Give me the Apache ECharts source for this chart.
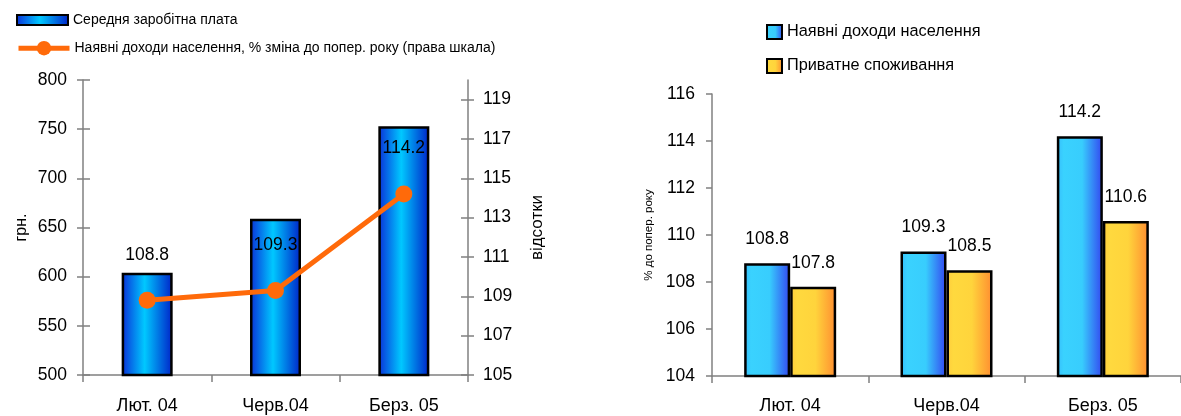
<!DOCTYPE html>
<html>
<head>
<meta charset="utf-8">
<script src="https://cdn.jsdelivr.net/npm/echarts@6/dist/echarts.min.js"></script>
<style>
html,body{margin:0;padding:0;background:#fff;}
#c{width:1181px;height:416px;}
</style>
</head>
<body>
<div id="c"></div>
<script>
// ---- data ----
const categories = ['Лют. 04', 'Черв.04', 'Берз. 05'];
const wages = [604, 659, 753];                 // Середня заробітна плата, грн.
const incomeGrowth = [108.8, 109.3, 114.2];    // Наявні доходи, % до попер. року (права шкала)
const disposableIncome = [108.8, 109.3, 114.2];
const privateConsumption = [107.8, 108.5, 110.6];
const rightScaleTicks = [105, 107, 109, 111, 113, 115, 117, 119];

const nameWage = 'Середня заробітна плата';
const nameIncomeLine = 'Наявні доходи населення, % зміна до попер. року (права шкала)';
const nameIncome = 'Наявні доходи населення';
const nameConsumption = 'Приватне споживання';

const FONT = '"Liberation Sans", Arial, sans-serif';
const AXIS_COLOR = '#808080';

const blueBar = {
  type: 'linear', x: 0, y: 0, x2: 1, y2: 0,
  colorStops: [
    {offset: 0, color: '#0a2fd8'},
    {offset: 0.45, color: '#00c8ff'},
    {offset: 1, color: '#0022c8'}
  ]
};
const cyanBar = {
  type: 'linear', x: 0, y: 0, x2: 1, y2: 0,
  colorStops: [
    {offset: 0, color: '#36bdfc'},
    {offset: 0.15, color: '#3ad2fe'},
    {offset: 0.55, color: '#38cdfd'},
    {offset: 1, color: '#3345f0'}
  ]
};
const yellowBar = {
  type: 'linear', x: 0, y: 0, x2: 1, y2: 0,
  colorStops: [
    {offset: 0, color: '#ffcc3c'},
    {offset: 0.15, color: '#ffd93e'},
    {offset: 0.55, color: '#ffd43c'},
    {offset: 1, color: '#ff8c30'}
  ]
};

const axisLine = {show: true, lineStyle: {color: AXIS_COLOR, width: 1.5}};
const tickStyle = {color: AXIS_COLOR, width: 1.5};

const chart = echarts.init(document.getElementById('c'), null, {renderer: 'canvas'});
chart.setOption({
  animation: false,
  backgroundColor: '#fff',
  textStyle: {fontFamily: FONT},
  legend: [
    {
      data: [nameWage], left: 11, top: 8, orient: 'vertical', icon: 'rect',
      itemWidth: 51, itemHeight: 10,
      textStyle: {fontFamily: FONT, fontSize: 14, color: '#000'}
    },
    {
      data: [nameIncomeLine], left: 11, top: 36, orient: 'vertical',
      itemWidth: 51, itemHeight: 18,
      lineStyle: {width: 5},
      textStyle: {fontFamily: FONT, fontSize: 14, color: '#000'}
    },
    {
      data: [nameIncome, nameConsumption], left: 761, top: 19, orient: 'vertical',
      itemWidth: 15, itemHeight: 14, itemGap: 18, icon: 'rect',
      textStyle: {fontFamily: FONT, fontSize: 16.3, color: '#000'}
    }
  ],
  grid: [
    {left: 83, top: 80, width: 385, height: 295},
    {left: 712, top: 94, width: 474, height: 282}
  ],
  xAxis: [
    {
      type: 'category', gridIndex: 0, data: categories,
      axisLine: axisLine,
      axisTick: {show: true, length: 7, lineStyle: tickStyle},
      axisLabel: {margin: 22, fontSize: 18, fontFamily: FONT, color: '#000'}
    },
    {
      type: 'category', gridIndex: 1, data: categories,
      axisLine: axisLine,
      axisTick: {show: true, length: 7, lineStyle: tickStyle},
      axisLabel: {margin: 21, fontSize: 18, fontFamily: FONT, color: '#000'}
    }
  ],
  yAxis: [
    {
      type: 'value', gridIndex: 0, position: 'left', min: 500, max: 800, interval: 50,
      name: 'грн.', nameLocation: 'middle', nameGap: 53, nameRotate: 90,
      nameTextStyle: {fontFamily: FONT, fontSize: 16, color: '#000'},
      axisLine: axisLine,
      axisTick: {show: true, length: 6, lineStyle: tickStyle},
      axisLabel: {margin: 16, fontSize: 17.5, fontFamily: FONT, color: '#000'},
      splitLine: {show: false}
    },
    {
      type: 'value', gridIndex: 0, position: 'right', min: 105, max: 120,
      name: 'відсотки', nameLocation: 'middle', nameGap: 61, nameRotate: 90,
      nameTextStyle: {fontFamily: FONT, fontSize: 17, color: '#000'},
      axisLine: axisLine,
      axisTick: {show: true, length: 6, lineStyle: tickStyle, customValues: rightScaleTicks},
      axisLabel: {margin: 15, fontSize: 17.5, fontFamily: FONT, color: '#000', customValues: rightScaleTicks},
      splitLine: {show: false}
    },
    {
      type: 'value', gridIndex: 0, position: 'left', min: 500, max: 800, interval: 50,
      axisLine: {show: false},
      axisTick: {show: true, inside: true, length: 7, lineStyle: tickStyle},
      axisLabel: {show: false},
      splitLine: {show: false}
    },
    {
      type: 'value', gridIndex: 0, position: 'right', min: 105, max: 120,
      axisLine: {show: false},
      axisTick: {show: true, inside: true, length: 7, lineStyle: tickStyle, customValues: rightScaleTicks},
      axisLabel: {show: false, customValues: rightScaleTicks},
      splitLine: {show: false}
    },
    {
      type: 'value', gridIndex: 1, position: 'left', min: 104, max: 116, interval: 2,
      name: '% до попер. року', nameLocation: 'middle', nameGap: 57, nameRotate: 90,
      nameTextStyle: {fontFamily: FONT, fontSize: 11.5, color: '#000'},
      axisLine: axisLine,
      axisTick: {show: true, length: 6, lineStyle: tickStyle},
      axisLabel: {margin: 17, fontSize: 17.5, fontFamily: FONT, color: '#000'},
      splitLine: {show: false}
    }
  ],
  series: [
    {
      name: nameWage, type: 'bar', xAxisIndex: 0, yAxisIndex: 0,
      data: wages, barWidth: 51,
      itemStyle: {color: blueBar, borderColor: '#000', borderWidth: 2.5}
    },
    {
      name: nameIncomeLine, type: 'line', xAxisIndex: 0, yAxisIndex: 1,
      data: incomeGrowth, z: 5,
      symbol: 'circle', symbolSize: 17,
      lineStyle: {color: '#ff6a0a', width: 5},
      itemStyle: {color: '#ff6a0a'},
      label: {show: true, position: 'top', distance: 28, fontSize: 17.5, fontFamily: FONT, color: '#000'}
    },
    {
      name: nameIncome, type: 'bar', xAxisIndex: 1, yAxisIndex: 4,
      data: disposableIncome, barWidth: 46, barGap: '0%',
      itemStyle: {color: cyanBar, borderColor: '#000', borderWidth: 2.5},
      label: {show: true, position: 'top', distance: 15, fontSize: 17.5, fontFamily: FONT, color: '#000'}
    },
    {
      name: nameConsumption, type: 'bar', xAxisIndex: 1, yAxisIndex: 4,
      data: privateConsumption, barWidth: 46, barGap: '0%',
      itemStyle: {color: yellowBar, borderColor: '#000', borderWidth: 2.5},
      label: {show: true, position: 'top', distance: 15, fontSize: 17.5, fontFamily: FONT, color: '#000'}
    }
  ]
});
</script>
</body>
</html>
